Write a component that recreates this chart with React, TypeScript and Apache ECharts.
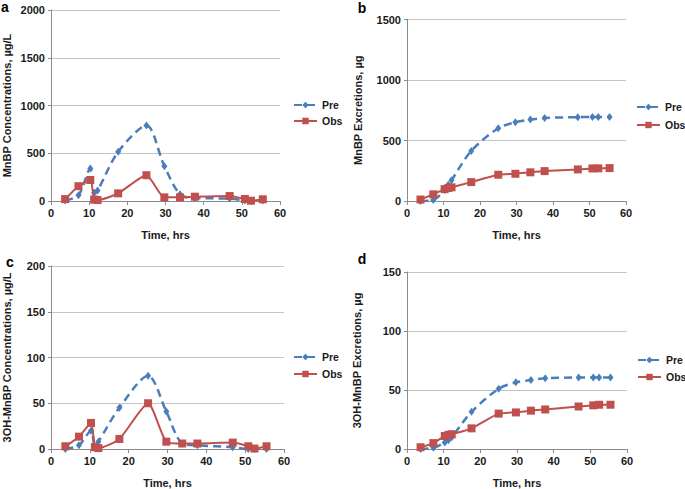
import React, { useEffect, useRef } from "react";
import * as echarts from "echarts";

const timeHrs = [3.7, 7.2, 10.3, 11.3, 12.2, 17.6, 25, 29.7, 33.8, 37.7, 46.8, 50.8, 52.4, 55.5];

const mnbpConcPre = [5, 60, 340, 85, 110, 515, 790, 365, 70, 30, 25, 5, 0, 5];
const mnbpConcObs = [20, 155, 220, 15, 10, 80, 270, 38, 38, 45, 52, 21, 3, 18];

const mnbpExcPre = [0, 8, 90, 135, 172, 414, 601, 651, 673, 686, 693, 695, 695, 695];
const mnbpExcObs = [12, 55, 98, 107, 113, 156, 217, 225, 237, 247, 261, 269, 270, 272];

const ohConcPre = [0, 4, 20, 3, 8, 45, 80, 41, 6, 4, 2, 0, 0, 0];
const ohConcObs = [3, 13.5, 28.5, 2, 1, 11, 50, 8, 6, 6, 7, 3, 0.5, 3];

const ohExcPre = [0, 1, 5.5, 7.5, 10, 31.5, 51, 56.5, 58.5, 60, 60.5, 60.5, 60.5, 60.5];
const ohExcObs = [1.5, 5, 11, 12, 12.5, 17.5, 30, 31, 32.5, 33.5, 36, 37, 37.5, 37.5];

const seriesNames = ["Pre", "Obs"];
const panelLabels = ["a", "b", "c", "d"];
const yTitles = [
  "MnBP Concentrations, µg/L",
  "MnBP Excretions, µg",
  "3OH-MnBP Concentrations, µg/L",
  "3OH-MnBP Excretions, µg",
];
const yMax = [2000, 1500, 200, 150];
const yStep = [500, 500, 50, 50];
const xTitle = "Time, hrs";

const BLUE = "#4a7ebb";
const RED = "#c0504d";
const FONT = "Liberation Sans, Arial, sans-serif";

export default function App() {
  const ref = useRef<HTMLDivElement>(null);
  useEffect(() => {
    if (!ref.current) return;
    const chart = echarts.init(ref.current, undefined, { renderer: "svg" });
    const grids = [
      { left: 51, top: 10, width: 229, height: 191 },
      { left: 407, top: 19.5, width: 219, height: 181.5 },
      { left: 51, top: 266, width: 233, height: 186 },
      { left: 407, top: 272, width: 220, height: 180 },
    ];
    const yGaps = [39, 44, 39, 45];
    const pairs = [
      [mnbpConcPre, mnbpConcObs],
      [mnbpExcPre, mnbpExcObs],
      [ohConcPre, ohConcObs],
      [ohExcPre, ohExcObs],
    ];
    const legendPos = [
      { left: 293, top: 98 },
      { left: 636, top: 100 },
      { left: 293, top: 350 },
      { left: 637, top: 353 },
    ];
    const legendGaps = [2, 4, 3, 3];
    const labelPos = [
      [5, 7],
      [362, 8],
      [10, 262],
      [362, 259],
    ];
    const labelStyle = { fontFamily: FONT, fontWeight: "bold" as const, fontSize: 11, color: "#1a1a1a" };

    const series: any[] = [];
    pairs.forEach((p, gi) => {
      series.push({
        name: seriesNames[0],
        type: "line",
        xAxisIndex: gi,
        yAxisIndex: gi,
        data: timeHrs.map((t, i) => [t, p[0][i]]),
        symbol: "diamond",
        symbolSize: [6, 8],
        smooth: 0.3,
        lineStyle: { color: BLUE, width: 2.5, type: [8, 5] },
        itemStyle: { color: BLUE },
        z: 2,
      });
      series.push({
        name: seriesNames[1],
        type: "line",
        xAxisIndex: gi,
        yAxisIndex: gi,
        data: timeHrs.map((t, i) => [t, p[1][i]]),
        symbol: "rect",
        symbolSize: 8,
        smooth: 0.2,
        lineStyle: { color: RED, width: 2 },
        itemStyle: { color: RED },
        z: 3,
      });
    });

    chart.setOption({
      animation: false,
      backgroundColor: "#ffffff",
      grid: grids,
      xAxis: grids.map((_, gi) => ({
        type: "value",
        gridIndex: gi,
        min: 0,
        max: 60,
        interval: 10,
        name: xTitle,
        nameLocation: "middle",
        nameGap: 28,
        nameTextStyle: labelStyle,
        axisLine: { show: true, lineStyle: { color: "#8c8c8c", width: 1 } },
        axisTick: { show: true, length: 4, lineStyle: { color: "#8c8c8c" } },
        axisLabel: { ...labelStyle, margin: 6, formatter: (v: number) => String(v) },
        splitLine: { show: false },
      })),
      yAxis: grids.map((_, gi) => ({
        type: "value",
        gridIndex: gi,
        min: 0,
        max: yMax[gi],
        interval: yStep[gi],
        name: yTitles[gi],
        nameLocation: "middle",
        nameGap: yGaps[gi],
        nameTextStyle: labelStyle,
        axisLine: { show: true, lineStyle: { color: "#8c8c8c", width: 1 } },
        axisTick: { show: true, length: 3, lineStyle: { color: "#8c8c8c" } },
        axisLabel: { ...labelStyle, margin: 6, formatter: (v: number) => String(v) },
        splitLine: { show: true, lineStyle: { color: "#c4c4c4", width: 1 } },
      })),
      legend: legendPos.map((lp, gi) => ({
        ...lp,
        orient: "vertical",
        data: seriesNames,
        itemWidth: 23,
        itemHeight: 8,
        itemGap: legendGaps[gi],
        selectedMode: false,
        textStyle: { ...labelStyle, fontSize: 10.5, lineHeight: 14, padding: [0, 0, 0, 0] },
        padding: 0,
      })),
      graphic: panelLabels.map((l, i) => ({
        type: "text",
        x: labelPos[i][0],
        y: labelPos[i][1],
        style: {
          text: l,
          fontFamily: FONT,
          fontWeight: "bold",
          fontSize: 14,
          fill: "#000",
          align: "center",
          verticalAlign: "middle",
        },
      })),
      series,
    });
    return () => chart.dispose();
  }, []);
  return (
    <div
      ref={ref}
      style={{ position: "fixed", left: 0, top: 0, width: 685, height: 489 }}
    />
  );
}
